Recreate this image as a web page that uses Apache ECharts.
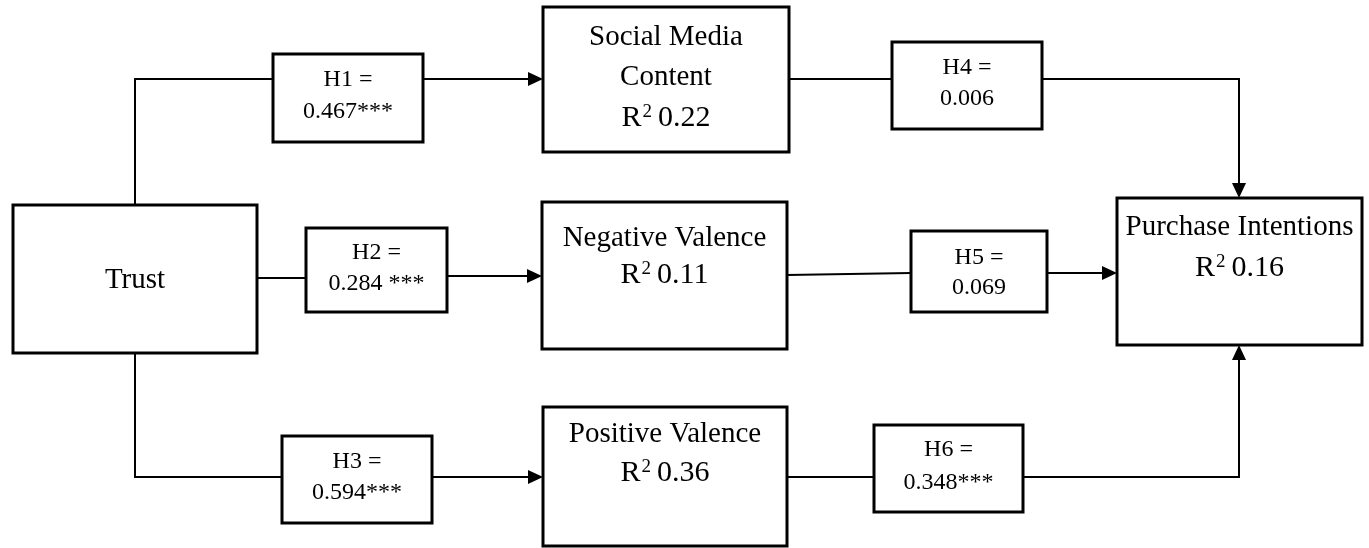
<!DOCTYPE html>
<html>
<head>
<meta charset="utf-8">
<script src="https://cdn.jsdelivr.net/npm/echarts@6/dist/echarts.min.js"></script>
<style>
html,body{margin:0;padding:0;background:#fff;}
#chart{width:1369px;height:548px;}
</style>
</head>
<body>
<div id="chart"></div>
<script>
// ---- data ----
const constructs = ['Trust', 'Social Media Content', 'Negative Valence', 'Positive Valence', 'Purchase Intentions'];
const rSquared = [null, 0.22, 0.11, 0.36, 0.16];
const hypotheses = ['H1', 'H2', 'H3', 'H4', 'H5', 'H6'];
const coefficients = [0.467, 0.284, 0.594, 0.006, 0.069, 0.348];
const significance = ['***', ' ***', '***', '', '', '***'];
const pathFrom = [0, 0, 0, 1, 2, 3];
const pathTo = [1, 2, 3, 4, 4, 4];

// ---- layout (diagram coordinates) ----
const nodeRects = [
  [13, 205, 257, 353],
  [543, 7, 789, 152],
  [542, 202, 787, 349],
  [543, 407, 787, 546],
  [1117, 198, 1362, 345]
];
const nodeLines = [
  [['Trust', 280]],
  [['Social Media', 37], ['Content', 77], ['R2', 118]],
  [['Negative Valence', 238], ['R2', 275]],
  [['Positive Valence', 434], ['R2', 473]],
  [['Purchase Intentions', 227], ['R2', 268]]
];
const labelRects = [
  [273, 54, 423, 142],
  [306, 228, 447, 312],
  [282, 436, 432, 523],
  [892, 42, 1042, 129],
  [911, 231, 1047, 312],
  [874, 425, 1023, 512]
];
const labelLineY = [[80, 112], [253, 284], [462, 493], [68, 99], [258, 288], [450, 483]];
// each path: segment into label box, segment out of label box (ends with arrow)
const pathIn = [
  [[135, 205], [135, 79], [273, 79]],
  [[257, 278], [306, 278]],
  [[135, 353], [135, 477], [282, 477]],
  [[789, 79], [892, 79]],
  [[787, 275], [911, 273]],
  [[787, 477], [874, 477]]
];
const pathOut = [
  [[423, 79], [543, 79]],
  [[447, 276], [542, 276]],
  [[432, 477], [543, 477]],
  [[1042, 79], [1239, 79], [1239, 198]],
  [[1047, 273], [1117, 273]],
  [[1023, 477], [1239, 477], [1239, 345]]
];

const FONT = '"Liberation Serif", "Times New Roman", serif';

function fmtCoef(v) { return v.toFixed(3); }

const chart = echarts.init(document.getElementById('chart'), null, {renderer: 'canvas'});

function boxRender(params, api) {
  const i = params.dataIndex;
  const r = nodeRects[i];
  const p0 = api.coord([r[0], r[1]]);
  const p1 = api.coord([r[2], r[3]]);
  const cx = (p0[0] + p1[0]) / 2;
  const children = [{
    type: 'rect',
    shape: {x: p0[0], y: p0[1], width: p1[0] - p0[0], height: p1[1] - p0[1]},
    style: {fill: '#fff', stroke: '#000', lineWidth: 3}
  }];
  nodeLines[i].forEach(function (ln) {
    const yy = api.coord([0, ln[1]])[1];
    if (ln[0] === 'R2') {
      children.push({
        type: 'text',
        style: {
          x: cx, y: yy, align: 'center', verticalAlign: 'middle',
          text: '{r|R}{s|2}{v|\u2009' + rSquared[i].toFixed(2) + '}',
          rich: {
            r: {font: '30px ' + FONT, fill: '#000'},
            s: {font: '19px ' + FONT, fill: '#000', padding: [0, 0, 12, 1]},
            v: {font: '30px ' + FONT, fill: '#000'}
          }
        }
      });
    } else {
      children.push({
        type: 'text',
        style: {x: cx, y: yy, align: 'center', verticalAlign: 'middle', text: ln[0], font: '29px ' + FONT, fill: '#000'}
      });
    }
  });
  return {type: 'group', children: children};
}

function arrowHead(a, b) {
  const dx = b[0] - a[0], dy = b[1] - a[1];
  const len = Math.sqrt(dx * dx + dy * dy);
  const ux = dx / len, uy = dy / len;
  const L = 15, W = 7;
  const bx = b[0] - ux * L, by = b[1] - uy * L;
  return [[b[0], b[1]], [bx - uy * W, by + ux * W], [bx + uy * W, by - ux * W]];
}

function pathRender(params, api) {
  const i = params.dataIndex;
  const inPts = pathIn[i].map(function (p) { return api.coord(p); });
  const outPts = pathOut[i].map(function (p) { return api.coord(p); });
  const n = outPts.length;
  const head = arrowHead(outPts[n - 2], outPts[n - 1]);
  const lineEnd = outPts.slice(0, n - 1).concat([[(head[1][0] + head[2][0]) / 2, (head[1][1] + head[2][1]) / 2]]);
  const r = labelRects[i];
  const p0 = api.coord([r[0], r[1]]);
  const p1 = api.coord([r[2], r[3]]);
  const cx = (p0[0] + p1[0]) / 2;
  const y1 = api.coord([0, labelLineY[i][0]])[1];
  const y2 = api.coord([0, labelLineY[i][1]])[1];
  return {
    type: 'group',
    children: [
      {type: 'polyline', shape: {points: inPts}, style: {stroke: '#000', lineWidth: 2, fill: null}},
      {type: 'polyline', shape: {points: lineEnd}, style: {stroke: '#000', lineWidth: 2, fill: null}},
      {type: 'polygon', shape: {points: head}, style: {fill: '#000', stroke: null}},
      {type: 'rect', shape: {x: p0[0], y: p0[1], width: p1[0] - p0[0], height: p1[1] - p0[1]},
        style: {fill: '#fff', stroke: '#000', lineWidth: 3}},
      {type: 'text', style: {x: cx, y: y1, align: 'center', verticalAlign: 'middle',
        text: hypotheses[i] + ' =', font: '24px ' + FONT, fill: '#000'}},
      {type: 'text', style: {x: cx, y: y2, align: 'center', verticalAlign: 'middle',
        text: fmtCoef(coefficients[i]) + significance[i], font: '24px ' + FONT, fill: '#000'}}
    ]
  };
}

chart.setOption({
  animation: false,
  backgroundColor: '#fff',
  grid: {left: 0, right: 0, top: 0, bottom: 0},
  xAxis: {type: 'value', min: 0, max: 1369, show: false},
  yAxis: {type: 'value', min: 0, max: 548, inverse: true, show: false},
  series: [
    {
      type: 'custom',
      name: 'paths',
      clip: false,
      renderItem: pathRender,
      data: hypotheses.map(function (h, i) { return [pathIn[i][0][0], pathIn[i][0][1], pathFrom[i], pathTo[i]]; }),
      encode: {x: 0, y: 1},
      z: 1
    },
    {
      type: 'custom',
      name: 'constructs',
      clip: false,
      renderItem: boxRender,
      data: constructs.map(function (c, i) { return [nodeRects[i][0], nodeRects[i][1]]; }),
      encode: {x: 0, y: 1},
      z: 2
    }
  ]
});
</script>
</body>
</html>
